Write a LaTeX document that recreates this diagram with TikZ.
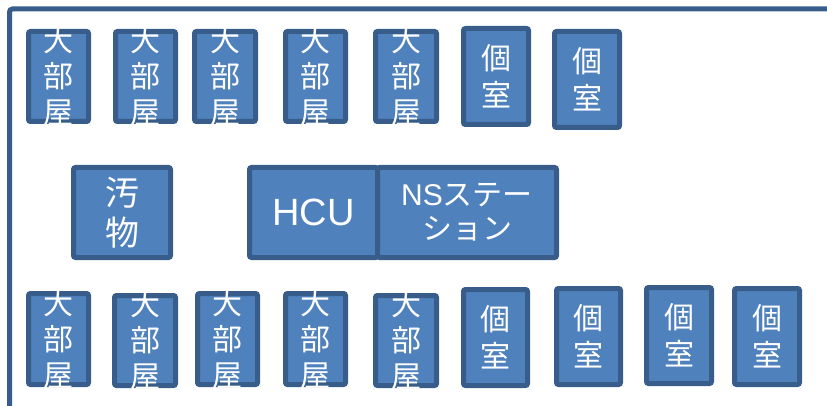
\documentclass[tikz,border=0pt]{standalone}
\usepackage{fontspec}
\setmainfont{Liberation Sans}
\newfontfamily\jp{Noto Sans CJK JP}
\definecolor{boxfill}{HTML}{4F81BD}
\definecolor{boxline}{HTML}{385D8A}
\tikzset{
  roombox/.style={draw=boxline, fill=boxfill, line width=5pt, rounded corners=2pt, inner sep=0pt},
  roomtext/.style={text=white, align=center, inner sep=0pt, font=\fontsize{30}{36}\selectfont\jp},
  framebox/.style={draw=boxline, line width=5pt, rounded corners=3pt}
}
% [text options] x1 y1 x2 y2 name text  (outer edges, image pixels)
\newcommand\roomnode[7][]{%
  \node[roombox, minimum width={#4-#2-5}, minimum height={#5-#3-5}] (#6) at ({(#2+#4)/2},{(#3+#5)/2}) {};
  \begin{scope}
    \clip (#6.north west) rectangle (#6.south east);
    \node[roomtext,#1] (#6-t) at (#6.center) {#7};
  \end{scope}}
\begin{document}
\begin{tikzpicture}[x=1pt,y=-1pt]
\useasboundingbox (0,0) rectangle (827,406);
\clip (0,0) rectangle (827,406);
\draw[framebox] (9.5,9) rectangle (1000,600);
% top row
\roomnode{26}{29}{91}{124}{a1}{大\\部\\屋}
\roomnode{113}{29}{178}{124}{a2}{大\\部\\屋}
\roomnode{192}{29}{258}{124}{a3}{大\\部\\屋}
\roomnode{283}{29}{348}{124}{a4}{大\\部\\屋}
\roomnode{373}{29}{439}{124}{a5}{大\\部\\屋}
\roomnode[font=\fontsize{30}{37}\selectfont\jp]{461}{26}{531}{127}{k1}{個\\室}
\roomnode[font=\fontsize{30}{37}\selectfont\jp]{552}{29}{622}{130}{k2}{個\\室}
% middle row
\roomnode[font=\fontsize{34}{40}\selectfont\jp]{71}{165}{173}{260}{odb}{汚\\物}
\roomnode[font=\fontsize{38}{40}\selectfont]{247}{165}{380}{260}{hcu}{HCU}
\roomnode[font=\fontsize{30}{34}\selectfont]{375}{165}{559}{260}{ns}{NS{\jp ステー}\\{\jp ション}}
% bottom row
\roomnode{26}{291}{91}{387}{b1}{大\\部\\屋}
\roomnode{112}{293}{178}{388}{b2}{大\\部\\屋}
\roomnode{195}{291}{260}{387}{b3}{大\\部\\屋}
\roomnode{283}{291}{348}{387}{b4}{大\\部\\屋}
\roomnode{373}{293}{439}{388}{b5}{大\\部\\屋}
\roomnode[font=\fontsize{30}{37}\selectfont\jp]{461}{287}{530}{388}{l1}{個\\室}
\roomnode[font=\fontsize{30}{37}\selectfont\jp]{554}{286}{623}{387}{l2}{個\\室}
\roomnode[font=\fontsize{30}{37}\selectfont\jp]{644}{285}{714}{386}{l3}{個\\室}
\roomnode[font=\fontsize{30}{37}\selectfont\jp]{732}{286}{802}{387}{l4}{個\\室}
\end{tikzpicture}
\end{document}
